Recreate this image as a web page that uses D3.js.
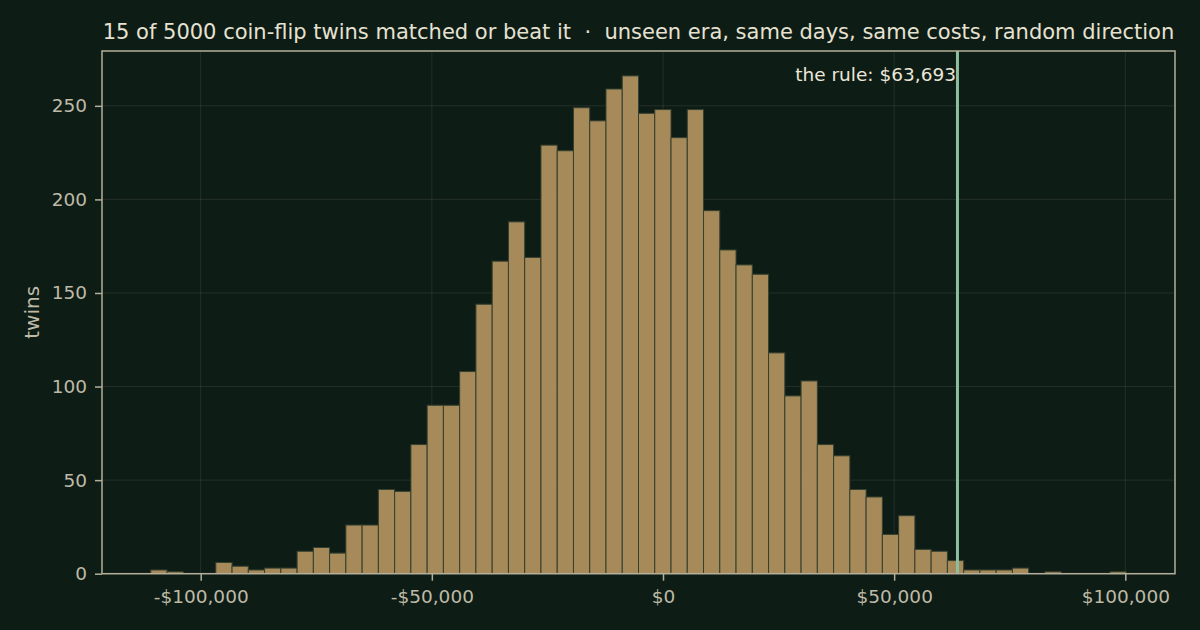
<!DOCTYPE html>
<html>
<head>
<meta charset="utf-8">
<script src="https://cdn.jsdelivr.net/npm/d3@7"></script>
<style>
    body { margin: 0; background: #0e1c16; }
    .svgbox text { font-family: 'DejaVu Sans', sans-serif; }
</style>
</head>
<body>
<div id="chart"></div>
<script>
// histogram of the 5000 coin-flip twins, one count per bin, left to right
var counts = [
    2, 1, 0, 0, 6, 4, 2, 3, 3, 12,
    14, 11, 26, 26, 45, 44, 69, 90, 90, 108,
    144, 167, 188, 169, 229, 226, 249, 242, 259, 266,
    246, 248, 233, 248, 194, 173, 165, 160, 118, 95,
    103, 69, 63, 45, 41, 21, 31, 13, 12, 7,
    2, 2, 2, 3, 0, 1, 0, 0, 0, 1
];
var binRange = [-110800, 100200];
var xTicks = [-100000, -50000, 0, 50000, 100000];
var yTicks = [0, 50, 100, 150, 200, 250];
var ruleValue = 63693;
var titleText = '15 of 5000 coin-flip twins matched or beat it  \u00b7  unseen era, same days, same costs, random direction';
var yLabelText = 'twins';

function histogram(){

    var width = 1200;
    var height = 630;
    var margin = {top: 51, right: 25, bottom: 56.3, left: 102};

    var color_background = '#0e1c16';
    var color_bar = '#a78a5a';
    var color_bar_edge = '#34402f';
    var color_spine = '#b4af9a';
    var color_tick_text = '#bfbaa6';
    var color_rule = '#8cbf9f';
    var color_title = '#e6e2d2';

    function chart(selection){
        selection.each(function() {

            var element = this;
            var svg, plot;
            var x, y;
            var innerW = width - margin.left - margin.right;
            var innerH = height - margin.top - margin.bottom;

            var nBins = counts.length;
            var binW = (binRange[1] - binRange[0]) / nBins;
            var bins = counts.map(function(c, i){
                return {x0: binRange[0] + i * binW, x1: binRange[0] + (i + 1) * binW, count: c};
            });

            function initSvg(){
                svg = d3.select(element)
                    .append('svg')
                    .attr('width', width)
                    .attr('height', height)
                    .attr('class', 'svgbox')
                    .style('display', 'block');

                svg.append('rect')
                    .attr('width', width)
                    .attr('height', height)
                    .style('fill', color_background);

                plot = svg.append('g')
                    .attr('transform', 'translate(' + margin.left + ',' + margin.top + ')');
            }

            function initScales(){
                // 5% padding on x like the original, 5% headroom on y
                var span = binRange[1] - binRange[0];
                x = d3.scaleLinear()
                    .domain([binRange[0] - span * 0.05, binRange[1] + span * 0.05])
                    .range([0, innerW]);
                y = d3.scaleLinear()
                    .domain([0, d3.max(counts) * 1.05])
                    .range([innerH, 0]);
            }

            function dollars(d){
                return (d < 0 ? '-' : '') + '$' + d3.format(',')(Math.abs(d));
            }

            function initGrid(){
                var grid = plot.append('g').attr('class', 'grid');
                grid.selectAll('.vgrid')
                    .data(xTicks)
                    .enter().append('line')
                    .attr('x1', function(d){ return x(d); })
                    .attr('x2', function(d){ return x(d); })
                    .attr('y1', 0)
                    .attr('y2', innerH);
                grid.selectAll('.hgrid')
                    .data(yTicks)
                    .enter().append('line')
                    .attr('x1', 0)
                    .attr('x2', innerW)
                    .attr('y1', function(d){ return y(d); })
                    .attr('y2', function(d){ return y(d); });
                grid.selectAll('line')
                    .style('stroke', '#c8c4b0')
                    .style('stroke-opacity', 0.12)
                    .style('stroke-width', 1);
            }

            function initBars(){
                plot.append('g')
                    .attr('class', 'bars')
                    .selectAll('rect')
                    .data(bins)
                    .enter().append('rect')
                    .attr('x', function(d){ return x(d.x0); })
                    .attr('width', function(d){ return x(d.x1) - x(d.x0); })
                    .attr('y', function(d){ return y(d.count); })
                    .attr('height', function(d){ return y(0) - y(d.count); })
                    .style('fill', color_bar)
                    .style('stroke', color_bar_edge)
                    .style('stroke-width', 1);
            }

            function initRule(){
                plot.append('line')
                    .attr('class', 'rule')
                    .attr('x1', x(ruleValue))
                    .attr('x2', x(ruleValue))
                    .attr('y1', 0)
                    .attr('y2', innerH)
                    .style('stroke', color_rule)
                    .style('stroke-width', 3);

                plot.append('text')
                    .attr('x', x(ruleValue) - 1.5)
                    .attr('y', 30)
                    .attr('text-anchor', 'end')
                    .style('font-size', '18.5px')
                    .style('fill', '#ebe7d8')
                    .text('the rule: ' + dollars(ruleValue));
            }

            function initAxes(){
                var xAxis = plot.append('g')
                    .attr('transform', 'translate(0,' + innerH + ')')
                    .call(d3.axisBottom(x)
                        .tickValues(xTicks)
                        .tickFormat(dollars)
                        .tickSize(7)
                        .tickPadding(9));

                var yAxis = plot.append('g')
                    .call(d3.axisLeft(y)
                        .tickValues(yTicks)
                        .tickSize(7)
                        .tickPadding(8));

                [xAxis, yAxis].forEach(function(a){
                    a.select('.domain').remove();
                    a.selectAll('.tick line')
                        .style('stroke', color_spine)
                        .style('stroke-width', 1.5);
                    a.selectAll('.tick text')
                        .style('font-family', "'DejaVu Sans', sans-serif")
                        .style('font-size', '18.5px')
                        .style('fill', color_tick_text);
                });

                // full frame round the plot
                plot.append('rect')
                    .attr('width', innerW)
                    .attr('height', innerH)
                    .style('fill', 'none')
                    .style('stroke', color_spine)
                    .style('stroke-width', 1.5);
            }

            function initText(){
                svg.append('text')
                    .attr('x', margin.left + innerW / 2)
                    .attr('y', 39)
                    .attr('text-anchor', 'middle')
                    .style('font-size', '21px')
                    .style('white-space', 'pre')
                    .style('fill', color_title)
                    .text(titleText);

                svg.append('text')
                    .attr('transform', 'translate(39,' + (margin.top + innerH / 2) + ') rotate(-90)')
                    .attr('text-anchor', 'middle')
                    .style('font-size', '20px')
                    .style('fill', color_tick_text)
                    .text(yLabelText);
            }

            function init(){
                initSvg();
                initScales();
                initGrid();
                initBars();
                initRule();
                initAxes();
                initText();
            }

            init();
        });
    }

    return chart;
}

d3.select('#chart').call(histogram());
</script>
</body>
</html>
